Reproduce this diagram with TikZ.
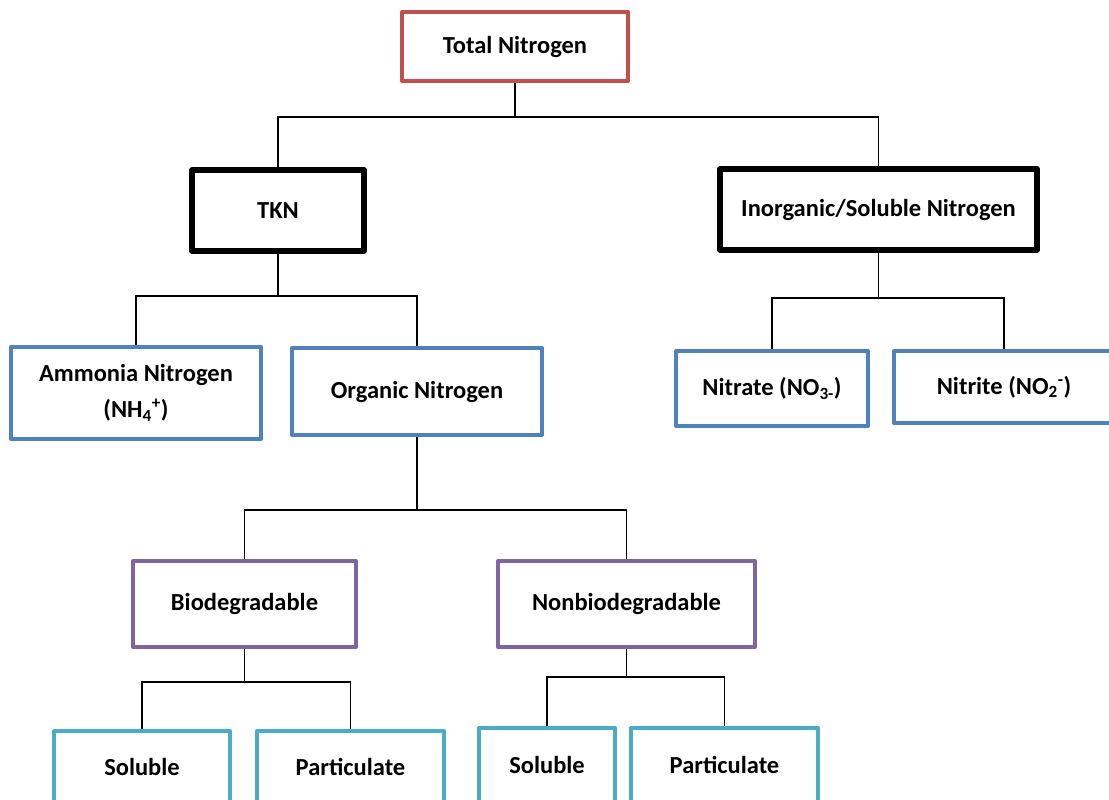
\documentclass[tikz,border=0pt]{standalone}
\usepackage{fontspec}
\setmainfont{Carlito}
\definecolor{cred}{HTML}{C0504D}
\definecolor{cblue}{HTML}{4F81BD}
\definecolor{cpurple}{HTML}{8064A2}
\definecolor{cteal}{HTML}{4BACC6}
\begin{document}
\begin{tikzpicture}[x=1pt,y=-1pt,
  box/.style={draw, rectangle, line width=4pt, line join=round, fill=white,
    inner sep=0pt, align=center, font=\fontsize{24.5}{36}\selectfont\bfseries},
  blk/.style={box, draw=black, line width=5.5pt},
  conn/.style={draw=black, line width=1.8pt}]
\useasboundingbox (0,0) rectangle (1109,800);
% boxes
\node[box, draw=cred, minimum width=226pt, minimum height=69pt] (tn) at (515,46.5) {Total Nitrogen};
\node[blk, minimum width=172pt, minimum height=81pt] (tkn) at (278,210.5) {TKN};
\node[blk, minimum width=317pt, minimum height=81pt] (inorg) at (878.5,209.5) {Inorganic/Soluble Nitrogen};
\node[box, draw=cblue, minimum width=250pt, minimum height=92pt] (amm) at (136,393) {Ammonia Nitrogen\\(NH\textsubscript{4}\textsuperscript{+})};
\node[box, draw=cblue, minimum width=250pt, minimum height=87pt] (org) at (417,391.5) {Organic Nitrogen};
\node[box, draw=cblue, minimum width=192pt, minimum height=75pt] (nitrate) at (772,388.5) {Nitrate (NO\textsubscript{3-})};
\node[box, draw=cblue, minimum width=220pt, minimum height=72pt] (nitrite) at (1004,387) {Nitrite (NO\textsubscript{2}\textsuperscript{-})};
\node[box, draw=cpurple, minimum width=223pt, minimum height=86pt] (bio) at (244.5,604) {Biodegradable};
\node[box, draw=cpurple, minimum width=257pt, minimum height=86pt] (nonbio) at (626.5,604) {Nonbiodegradable};
\node[box, draw=cteal, minimum width=176pt, minimum height=72pt] (sol1) at (142,767) {Soluble};
\node[box, draw=cteal, minimum width=187pt, minimum height=72pt] (part1) at (350.5,767) {Particulate};
\node[box, draw=cteal, minimum width=136pt, minimum height=74pt] (sol2) at (547,765) {Soluble};
\node[box, draw=cteal, minimum width=187pt, minimum height=74pt] (part2) at (724.5,765) {Particulate};
% bar levels
\coordinate (b1) at (0,117);
\coordinate (b2) at (0,296);
\coordinate (b3) at (0,298);
\coordinate (b4) at (0,510);
\coordinate (b5) at (0,682);
\coordinate (b6) at (0,677);
% connectors
\draw[conn] (tn.south) -- (tn.south |- b1) -| (tkn.north);
\draw[conn] (tn.south |- b1) -| (inorg.north);
\draw[conn] (tkn.south) -- (tkn.south |- b2) -| (amm.north);
\draw[conn] (tkn.south |- b2) -| (org.north);
\draw[conn] (inorg.south) -- (inorg.south |- b3) -| (nitrate.north);
\draw[conn] (inorg.south |- b3) -| (nitrite.north);
\draw[conn] (org.south) -- (org.south |- b4) -| (bio.north);
\draw[conn] (org.south |- b4) -| (nonbio.north);
\draw[conn] (bio.south) -- (bio.south |- b5) -| (sol1.north);
\draw[conn] (bio.south |- b5) -| (part1.north);
\draw[conn] (nonbio.south) -- (nonbio.south |- b6) -| (sol2.north);
\draw[conn] (nonbio.south |- b6) -| (part2.north);
\end{tikzpicture}
\end{document}
